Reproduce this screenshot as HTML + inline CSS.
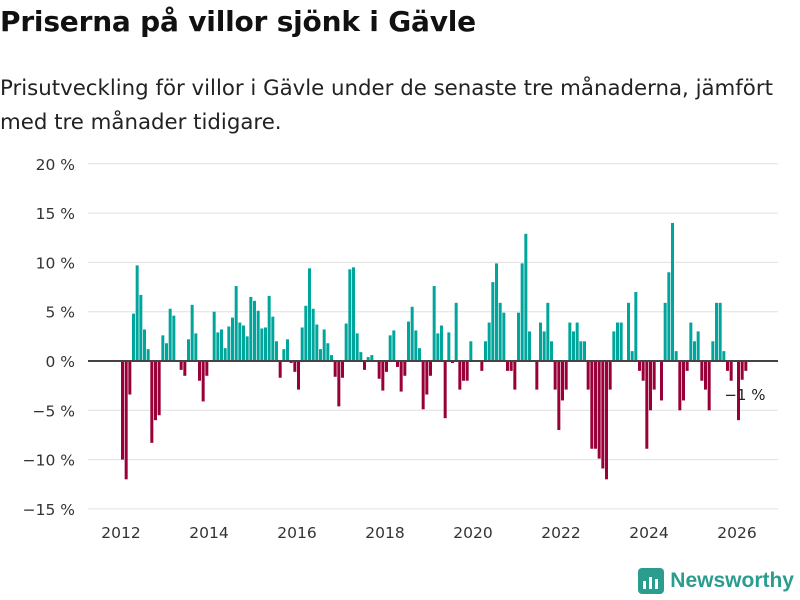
<!DOCTYPE html>
<html><head><meta charset="utf-8"><style>
body{margin:0;background:#fff;width:800px;height:600px;overflow:hidden;font-family:"DejaVu Sans",sans-serif;}
#title{position:absolute;left:0;top:5px;font-size:28px;font-weight:bold;color:#111;margin:0;font-family:"DejaVu Sans",sans-serif;letter-spacing:-0.2px}
#sub{position:absolute;left:0;top:72px;font-size:21.3px;line-height:34px;color:#222;width:800px;font-family:"DejaVu Sans",sans-serif;white-space:nowrap}
#logo{position:absolute;right:6px;bottom:6px;display:flex;align-items:center;gap:6px;color:#2a9d8f;font-weight:bold;font-size:21px;font-family:"Liberation Sans",sans-serif}
</style></head><body>
<h1 id="title">Priserna på villor sjönk i Gävle</h1>
<div id="sub">Prisutveckling för villor i Gävle under de senaste tre månaderna, jämfört<br>med tre månader tidigare.</div>
<svg id="chart" width="800" height="600" style="position:absolute;left:0;top:0"></svg>
<div id="logo"><svg width="26" height="26" viewBox="0 0 26 26"><rect x="0" y="0" width="26" height="26" rx="4" fill="#2a9d8f"/><rect x="5" y="13" width="3" height="8" fill="#fff"/><rect x="11" y="9" width="3" height="12" fill="#fff"/><rect x="17" y="11" width="3" height="10" fill="#fff"/></svg><span>Newsworthy</span></div>
<script>
const startYear = 2012;
const values = [-10,-12,-3.4,4.8,9.7,6.7,3.2,1.2,-8.3,-6.0,-5.5,2.6,
1.8,5.3,4.6,0,-0.9,-1.5,2.2,5.7,2.8,-2.0,-4.1,-1.5,
0,5.0,2.9,3.2,1.3,3.5,4.4,7.6,3.9,3.6,2.5,6.5,
6.1,5.1,3.3,3.4,6.6,4.5,2.0,-1.7,1.2,2.2,-0.2,-1.1,
-2.9,3.4,5.6,9.4,5.3,3.7,1.2,3.2,1.8,0.6,-1.6,-4.6,
-1.7,3.8,9.3,9.5,2.8,0.9,-0.9,0.4,0.6,0,-1.8,-3.0,
-1.1,2.6,3.1,-0.6,-3.1,-1.5,4.0,5.5,3.1,1.3,-4.9,-3.4,
-1.5,7.6,2.8,3.6,-5.8,2.9,-0.2,5.9,-2.9,-2.0,-2.0,2.0,
0,0,-1.0,2.0,3.9,8.0,9.9,5.9,4.9,-1.0,-1.0,-2.9,
4.9,9.9,12.9,3.0,0,-2.9,3.9,3.0,5.9,2.0,-2.9,-7.0,
-4.0,-2.9,3.9,3.0,3.9,2.0,2.0,-2.9,-8.9,-8.9,-9.9,-10.9,
-12.0,-2.9,3.0,3.9,3.9,0,5.9,1.0,7.0,-1.0,-2.0,-8.9,
-5.0,-2.9,0,-4.0,5.9,9.0,14.0,1.0,-5.0,-4.0,-1.0,3.9,
2.0,3.0,-2.0,-2.9,-5.0,2.0,5.9,5.9,1.0,-1.0,-2.0,0,
-6.0,-1.9,-1.0];
const yTicks = [-15,-10,-5,0,5,10,15,20];
const yTickLabels = ["−15 %","−10 %","−5 %","0 %","5 %","10 %","15 %","20 %"];
const xTicks = [2012,2014,2016,2018,2020,2022,2024,2026];
const lastLabel = "−1 %";

const svg = document.getElementById('chart');
const NS = 'http://www.w3.org/2000/svg';
const y = v => 361 - v * 9.86;
const x = yr => 121 + (yr - startYear) * 44;
function mk(t, a){const e=document.createElementNS(NS,t);for(const k in a)e.setAttribute(k,a[k]);svg.appendChild(e);return e;}
yTicks.forEach((t,i)=>{
  const g = mk('line',{x1:88,x2:778,y1:y(t),y2:y(t),stroke:'#e0e0e0','stroke-width':1});
  
  
  const l = mk('text',{x:75,y:y(t)+6,'text-anchor':'end','font-size':15.5,fill:'#333','font-family':'DejaVu Sans, sans-serif'});
  l.textContent = yTickLabels[i];
  
  
});
xTicks.forEach(t=>{
  const l = mk('text',{x:x(t),y:538,'text-anchor':'middle','font-size':15.5,fill:'#333','font-family':'DejaVu Sans, sans-serif'});
  l.textContent = t;
  
  
});
values.forEach((v,i)=>{
  if(v===0) return;
  const cx = x(startYear + i/12);
  const r = mk('rect',{x:cx, y:Math.min(y(v),y(0)), width:3, height:Math.abs(y(v)-y(0)), fill: v>0?'#00a69c':'#990038'});
  
  
});
const z = mk('line',{x1:88,x2:778,y1:y(0),y2:y(0),stroke:'#444','stroke-width':2});


const li = values.length-1;
const ll = mk('text',{x:x(startYear+li/12)-20,y:y(values[li])+29,'font-size':15,fill:'#222','font-family':'DejaVu Sans, sans-serif'});
ll.textContent = lastLabel;


</script>
</body></html>
